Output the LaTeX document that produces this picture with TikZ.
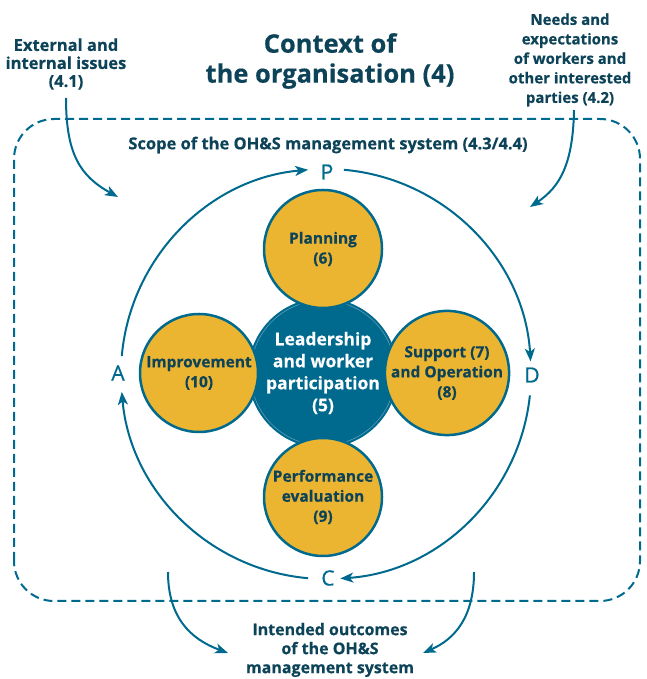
\documentclass[tikz,border=0pt]{standalone}
\usepackage{fontspec}
\setmainfont{Open Sans}[BoldFeatures={FakeBold=0.4}]
\newfontfamily\pdcafont{Open Sans}[FakeBold=0.8]
\usetikzlibrary{arrows.meta,calc}
\definecolor{oblue}{HTML}{006A8E}
\definecolor{odark}{HTML}{0D4358}
\definecolor{oyel}{HTML}{EBB532}
\definecolor{olight}{HTML}{5E9CB6}
\tikzset{
  arr/.style={draw=oblue, line width=2pt, -{Stealth[length=13pt,width=10pt,inset=3.5pt]}},
  sat/.style={circle, draw=oblue, line width=2.5pt, fill=oyel, minimum size=118pt, inner sep=0pt, align=center, text=odark, font=\bfseries\fontsize{15.5}{20}\selectfont},
  core/.style={circle, fill=oblue, minimum size=150pt, inner sep=0pt, align=center, text=white, font=\bfseries\fontsize{17.5}{22}\selectfont},
  lbl/.style={align=center, text=odark, font=\bfseries\fontsize{16.5}{18}\selectfont, inner sep=0pt},
  pdca/.style={text=oblue, font=\pdcafont\fontsize{21}{21}\selectfont, inner sep=0pt},
  scope/.style={draw=oblue, line width=2pt, dash pattern=on 9pt off 5pt, rounded corners=40pt}
}
\begin{document}
\begin{tikzpicture}[x=1pt,y=1pt]
\useasboundingbox (0,0) rectangle (646,679);
% scope frame
\draw[scope] (14,78) rectangle (640,560);
% titles and labels
\node[lbl, font=\bfseries\fontsize{25.5}{30}\selectfont] (title) at (330,618) {Context of\\the organisation (4)};
\node[lbl] (scopet) at (328,534) {Scope of the OH\&S management system (4.3/4.4)};
\node[lbl] (ext) at (66,615) {External and\\internal issues\\(4.1)};
\node[lbl, font=\bfseries\fontsize{15}{19.5}\selectfont] (needs) at (570,619) {Needs and\\expectations\\of workers and\\other interested\\parties (4.2)};
\node[lbl, font=\bfseries\fontsize{16}{19}\selectfont] (out) at (330,29) {Intended outcomes\\of the OH\&S\\management system};
% circles
\node[core] (lead) at (323,306) {Leadership\\and worker\\participation\\(5)};
\draw[olight, line width=0.6pt] (lead.center) circle[radius=72.5pt];
\node[sat] (plan) at (323,430) {Planning\\(6)};
\node[sat] (impr) at (199,306) {Improvement\\(10)};
\node[sat] (supp) at (447,306) {Support (7)\\and Operation\\(8)};
\node[sat] (perf) at (323,182) {Performance\\evaluation\\(9)};
% PDCA letters
\coordinate (pc) at (326,305);
\node[pdca] (P) at (327,507) {P};
\node[pdca] (D) at (532,304) {D};
\node[pdca] (A) at (118,306) {A};
\node[pdca] (C) at (328,101) {C};
\draw[arr] (pc) ++(175:205) arc[start angle=175, end angle=95, radius=205];
\draw[arr] (pc) ++(85:205) arc[start angle=85, end angle=3.5, radius=205];
\draw[arr] (pc) ++(-6:205) arc[start angle=-6, end angle=-86, radius=205];
\draw[arr] (pc) ++(-95:205) arc[start angle=-95, end angle=-175, radius=205];
% outer arrows
\coordinate (e1) at (66,581);
\coordinate (e2) at (118,482);
\coordinate (n1) at (574,569);
\coordinate (n2) at (530,472);
\coordinate (o1) at (168,107);
\coordinate (o2) at (228,26);
\coordinate (o3) at (474,107);
\coordinate (o4) at (423,26);
\draw[arr] (e1) .. controls (66,525) and (80,503) .. (e2);
\draw[arr] (n1) .. controls (573,515) and (560,492) .. (n2);
\draw[arr] (o1) .. controls (168,62) and (190,40) .. (o2);
\draw[arr] (o3) .. controls (474,62) and (455,40) .. (o4);
\end{tikzpicture}
\end{document}
